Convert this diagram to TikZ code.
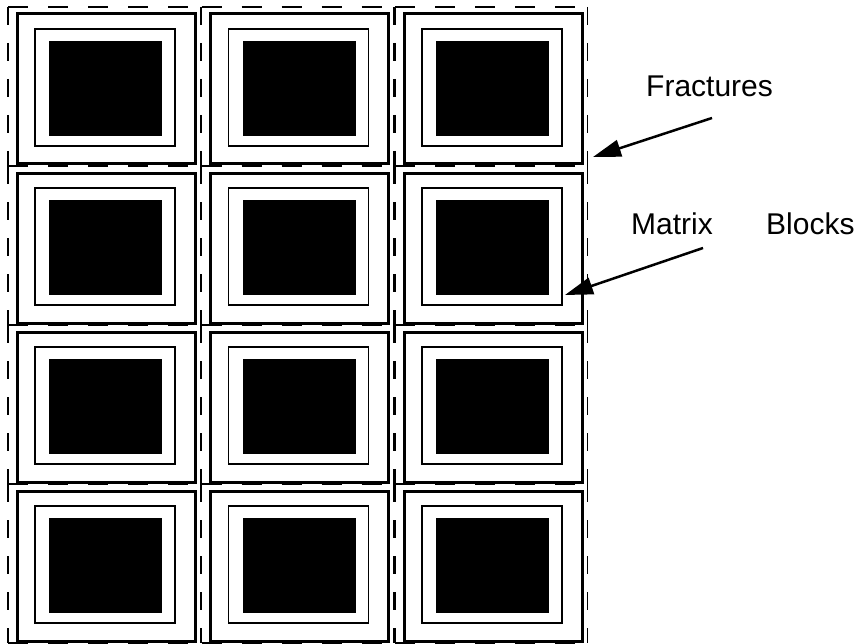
\documentclass[tikz,border=0pt]{standalone}
\usepackage{fontspec}
\setmainfont{Liberation Sans}
\usetikzlibrary{arrows.meta}
\begin{document}
\begin{tikzpicture}[x=1pt,y=-1pt,
  hdash/.style={line width=1.5pt, dash pattern=on 20pt off 20pt},
  vdash/.style={line width=1.5pt, dash pattern=on 18pt off 18pt},
  outerblock/.style={line width=3pt},
  innerblock/.style={line width=1.8pt},
  coreblock/.style={fill=black},
  lbl/.style={anchor=base west, inner sep=0pt, font=\fontsize{30}{36}\selectfont},
  pointer/.style={line width=2.5pt, -{Triangle[length=28pt,width=17pt]}}]
\useasboundingbox (0,0) rectangle (865,644);
\foreach \i in {0,...,3} {
  \foreach \j in {0,...,2} {
    \pgfmathsetmacro\xo{8+193.5*\j}
    \pgfmathsetmacro\yo{7+159.1*\i}
    \pgfmathsetmacro\xe{\xo+192.5}
    \pgfmathsetmacro\ye{\yo+158.6}
    \fill[coreblock] (\xo+41,\yo+34) rectangle (\xo+154,\yo+129);
    \draw[innerblock] (\xo+27,\yo+22) rectangle (\xo+167,\yo+139);
    \draw[outerblock] (\xo+9,\yo+7) rectangle (\xo+187,\yo+157);
    \draw[hdash] (\xo,\yo) -- (\xe,\yo);
    \draw[hdash] (\xo,\ye) -- (\xe,\ye);
    \draw[vdash] (\xo,\yo) -- (\xo,\ye);
    \draw[vdash] (\xe,\yo) -- (\xe,\ye);
  }
}
\node[lbl] (fractures) at (646,97) {Fractures};
\node[lbl] (matrix) at (631,235) {Matrix};
\node[lbl] (blocks) at (766,235) {Blocks};
\coordinate (fstart) at (712,118);
\coordinate (ftip) at (593,157);
\coordinate (mstart) at (703,248);
\coordinate (mtip) at (565,295);
\draw[pointer] (fstart) -- (ftip);
\draw[pointer] (mstart) -- (mtip);
\end{tikzpicture}
\end{document}
